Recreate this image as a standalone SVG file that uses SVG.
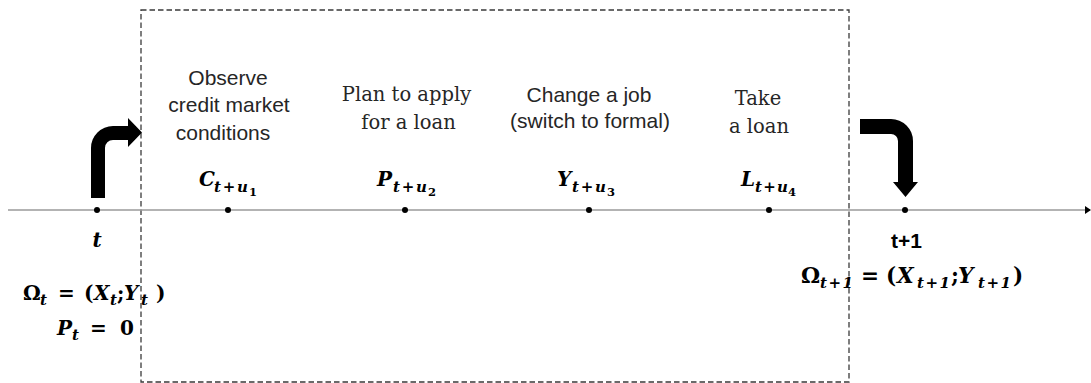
<svg xmlns="http://www.w3.org/2000/svg" width="1091" height="383" viewBox="0 0 1091 383">
<style>
.sans{font-family:"Liberation Sans",Arial,sans-serif;font-size:21px;fill:#262626;text-anchor:middle}
.serif{font-family:"DejaVu Serif","Liberation Serif",serif;font-size:19.5px;fill:#262626;text-anchor:middle}
.mi{font-family:"DejaVu Serif","Liberation Serif",serif;font-weight:bold;font-style:italic;font-size:20px;fill:#000}
.mu{font-family:"DejaVu Serif","Liberation Serif",serif;font-weight:bold;font-size:20px;fill:#000}
.big{font-size:21.5px}
.sub{font-size:15px}
.ss{font-size:11.5px}
.tb{font-family:"Liberation Sans",Arial,sans-serif;font-weight:bold;font-size:21px;fill:#000}
.dot{fill:#000}
.frame{fill:none;stroke:#3a3a3a;stroke-width:1.3;stroke-dasharray:5.5 3}
.axis{stroke:#9a9a9a;stroke-width:1.5}
.bend{fill:#000}
</style>
<defs>
<marker id="axhead" markerWidth="6" markerHeight="8" refX="5" refY="4" orient="auto" markerUnits="userSpaceOnUse">
<path d="M0,0 L6,4 L0,8 Z" fill="#000"/>
</marker>
</defs>

<g id="frame">
<rect class="frame" x="141" y="10" width="708" height="372"/>
</g>

<g id="connectors">
<line class="axis" x1="8" y1="210" x2="1090" y2="210" marker-end="url(#axhead)"/>
<path class="bend" d="M91,198 L91,148 A22,22 0 0 1 113,126 L128,126 L128,118 L142,132.5 L128,147 L128,140 L113,140 A8,8 0 0 0 105,148 L105,198 Z"/>
<path class="bend" d="M860,119 L891,119 A22,22 0 0 1 913,141 L913,182 L918,182 L905.5,197 L893,182 L898,182 L898,141 A7,7 0 0 0 891,134 L860,134 Z"/>
</g>

<g id="node-t">
<circle class="dot" cx="97" cy="210" r="3"/>
<text class="mi" x="97" y="247" text-anchor="middle">t</text>
<text class="mu" x="23" y="300">Ω</text>
<text class="mi sub" x="40" y="305">t</text>
<text class="mu" x="58" y="300">=</text>
<text class="mu" x="84" y="300">(</text>
<text class="mi" x="94" y="300">X</text>
<text class="mi sub" x="110" y="305">t</text>
<text class="mu" x="117" y="300">;</text>
<text class="mi" x="124" y="300">Y</text>
<text class="mi sub" x="141" y="305">t</text>
<text class="mu" x="156" y="300">)</text>
<text class="mi" x="57" y="335">P</text>
<text class="mi sub" x="72" y="340">t</text>
<text class="mu" x="90" y="335">=</text>
<text class="mu" x="120" y="335">0</text>
</g>

<g id="node-c">
<circle class="dot" cx="228" cy="210" r="3"/>
<text class="sans" x="228" y="85">Observe</text>
<text class="sans" x="229" y="112">credit market</text>
<text class="sans" x="223" y="140">conditions</text>
<text class="mi" x="199" y="186">C</text>
<text class="mi sub" x="214" y="192" textLength="34" lengthAdjust="spacing">t+u</text>
<text class="mu ss" x="249" y="196">1</text>
</g>

<g id="node-p">
<circle class="dot" cx="405" cy="210" r="3"/>
<text class="serif" x="406.5" y="101">Plan to apply</text>
<text class="serif" x="408.5" y="129">for a loan</text>
<text class="mi" x="377" y="186">P</text>
<text class="mi sub" x="393" y="192" textLength="34" lengthAdjust="spacing">t+u</text>
<text class="mu ss" x="428" y="196">2</text>
</g>

<g id="node-y">
<circle class="dot" cx="589" cy="210" r="3"/>
<text class="sans" x="589" y="102">Change a job</text>
<text class="sans" x="590" y="128">(switch to formal)</text>
<text class="mi" x="557" y="186">Y</text>
<text class="mi sub" x="572" y="192" textLength="34" lengthAdjust="spacing">t+u</text>
<text class="mu ss" x="607" y="196">3</text>
</g>

<g id="node-l">
<circle class="dot" cx="769" cy="210" r="3"/>
<text class="serif" x="758" y="105">Take</text>
<text class="serif" x="759" y="133">a loan</text>
<text class="mi" x="741" y="186">L</text>
<text class="mi sub" x="755" y="192" textLength="33" lengthAdjust="spacing">t+u</text>
<text class="mu ss" x="788" y="196">4</text>
</g>

<g id="node-t1">
<circle class="dot" cx="905" cy="210" r="3"/>
<text class="tb" x="891" y="248">t+1</text>
<text class="mu big" x="801" y="283">Ω</text>
<text class="mi sub" x="820" y="288" textLength="33" lengthAdjust="spacing">t+1</text>
<text class="mu big" x="861" y="283">=</text>
<text class="mu big" x="886" y="283">(</text>
<text class="mi big" x="897" y="283">X</text>
<text class="mi sub" x="917" y="288" textLength="33" lengthAdjust="spacing">t+1</text>
<text class="mu big" x="951" y="283">;</text>
<text class="mi big" x="958" y="283">Y</text>
<text class="mi sub" x="978" y="288" textLength="33" lengthAdjust="spacing">t+1</text>
<text class="mu big" x="1013" y="283">)</text>
</g>
</svg>
